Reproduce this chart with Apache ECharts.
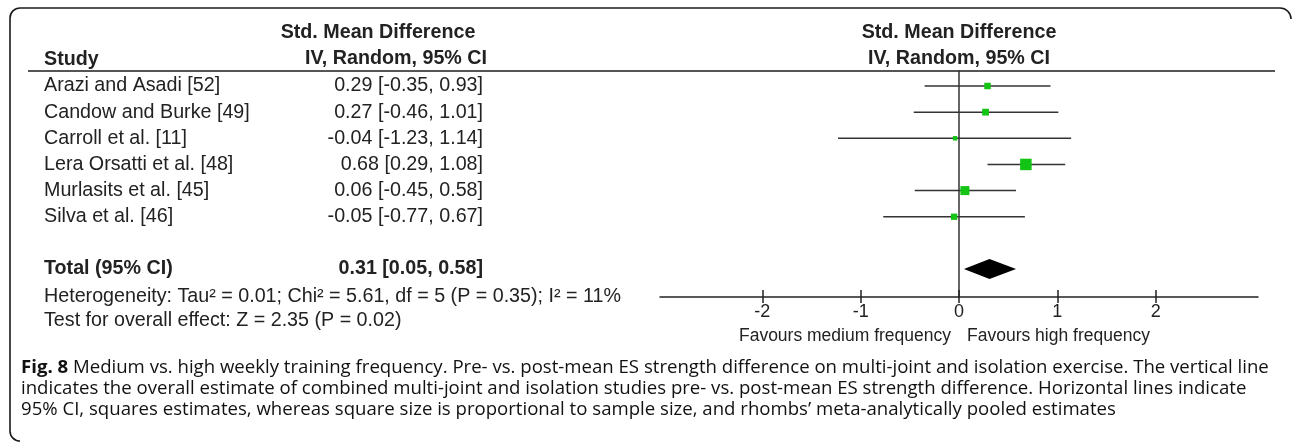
<!DOCTYPE html>
<html><head><meta charset="utf-8">
<script src="https://cdn.jsdelivr.net/npm/echarts@6/dist/echarts.min.js"></script>
<style>html,body{margin:0;padding:0;background:#fff}#c{width:1292px;height:444px}</style>
</head><body><div id="c"></div>
<script>
// ---- data ----
const studies = ['Arazi and Asadi [52]', 'Candow and Burke [49]', 'Carroll et al. [11]', 'Lera Orsatti et al. [48]', 'Murlasits et al. [45]', 'Silva et al. [46]'];
const smd = [0.29, 0.27, -0.04, 0.68, 0.06, -0.05];
const ciLow = [-0.35, -0.46, -1.23, 0.29, -0.45, -0.77];
const ciHigh = [0.93, 1.01, 1.14, 1.08, 0.58, 0.67];
const weights = [11.7, 12.8, 5.6, 36.6, 22.4, 11.0];
const totalLabel = ['Total (95% CI)'];
const totalSmd = [0.31];
const totalLow = [0.05];
const totalHigh = [0.58];
const xTickValues = [-2, -1, 0, 1, 2];
const headerStudy = 'Study';
const headerEffect = ['Std. Mean Difference', 'IV, Random, 95% CI'];
const heterogeneity = 'Heterogeneity: Tau\u00b2 = 0.01; Chi\u00b2 = 5.61, df = 5 (P = 0.35); I\u00b2 = 11%';
const overallTest = 'Test for overall effect: Z = 2.35 (P = 0.02)';
const favoursLeft = 'Favours medium frequency';
const favoursRight = 'Favours high frequency';
const captionLines = [
  '{b|Fig. 8} Medium vs. high weekly training frequency. Pre- vs. post-mean ES strength difference on multi-joint and isolation exercise. The vertical line',
  'indicates the overall estimate of combined multi-joint and isolation studies pre- vs. post-mean ES strength difference. Horizontal lines indicate',
  '95% CI, squares estimates, whereas square size is proportional to sample size, and rhombs\u2019 meta-analytically pooled estimates'
];

// ---- styles ----
const TF = '"Liberation Sans", Arial, sans-serif';
const tableFont = '19.7px ' + TF;
const tableBold = 'bold 19.7px ' + TF;
const capFont = '"Open Sans", sans-serif';
const capSize = 18.6;
const green = '#14c414';
const ink = '#222';
const frameInk = '#1a1a1a';
const fmt = v => v.toFixed(2);
const totalRow = studies.length + 1;

const chart = echarts.init(document.getElementById('c'), null, {renderer: 'canvas'});

const studyData = studies.map((s, i) => [i, smd[i], ciLow[i], ciHigh[i], weights[i]]);
const totalData = totalLabel.map((s, i) => [totalRow, totalSmd[i], totalLow[i], totalHigh[i]]);

const caption = captionLines.map((t, k) => ({
  type: 'text', x: 21, y: 368 + k * 21,
  style: {
    text: t, font: capSize + 'px ' + capFont, fill: '#111', verticalAlign: 'middle',
    rich: {b: {font: 'bold ' + capSize + 'px ' + capFont, fill: '#111'}}
  }
}));

const frameStyle = {stroke: frameInk, lineWidth: 1.6, fill: null};
const frame = [
  {type: 'line', shape: {x1: 20, y1: 8, x2: 1280, y2: 8}, style: frameStyle},
  {type: 'line', shape: {x1: 10, y1: 18, x2: 10, y2: 431}, style: frameStyle},
  {type: 'arc', shape: {cx: 20, cy: 18, r: 10, startAngle: Math.PI, endAngle: Math.PI * 1.5, clockwise: true}, style: frameStyle},
  {type: 'arc', shape: {cx: 1280, cy: 19, r: 11, startAngle: -Math.PI / 2, endAngle: 0, clockwise: true}, style: frameStyle},
  {type: 'arc', shape: {cx: 20, cy: 431, r: 10, startAngle: Math.PI / 2, endAngle: Math.PI, clockwise: true}, style: frameStyle}
];

chart.setOption({
  animation: false,
  backgroundColor: '#fff',
  grid: {left: 660, width: 598, top: 71, height: 226, containLabel: false},
  xAxis: [{
    type: 'value', min: -3.04, max: 3.04, position: 'bottom',
    axisLine: {show: true, onZero: false, lineStyle: {color: ink, width: 1.5}},
    axisTick: {show: true, customValues: xTickValues, length: 6, inside: false, lineStyle: {color: ink, width: 1.5}},
    axisLabel: {show: true, customValues: xTickValues, margin: 6, color: ink, fontSize: 18, fontFamily: TF},
    splitLine: {show: false}
  }, {
    type: 'value', min: -3.04, max: 3.04, position: 'bottom',
    axisLine: {show: false, onZero: false},
    axisTick: {show: true, customValues: xTickValues, length: 7, inside: true, lineStyle: {color: ink, width: 1.5}},
    axisLabel: {show: false},
    splitLine: {show: false}
  }],
  yAxis: {
    type: 'value', inverse: true, min: -0.574, max: 8.07,
    axisLine: {show: true, onZero: true, onZeroAxisIndex: 0, lineStyle: {color: '#333', width: 1.5}},
    axisTick: {show: false}, axisLabel: {show: false}, splitLine: {show: false}
  },
  graphic: frame.concat([
    {type: 'line', shape: {x1: 28, y1: 71, x2: 1275, y2: 71}, style: {stroke: '#555', lineWidth: 2}},
    {type: 'text', x: 44, y: 60, style: {text: headerStudy, font: tableBold, fill: ink, align: 'left', verticalAlign: 'middle'}},
    {type: 'text', x: 378, y: 33, style: {text: headerEffect[0], font: tableBold, fill: ink, align: 'center', verticalAlign: 'middle'}},
    {type: 'text', x: 396, y: 59, style: {text: headerEffect[1], font: tableBold, fill: ink, align: 'center', verticalAlign: 'middle'}},
    {type: 'text', x: 959, y: 33, style: {text: headerEffect[0], font: tableBold, fill: ink, align: 'center', verticalAlign: 'middle'}},
    {type: 'text', x: 959, y: 59, style: {text: headerEffect[1], font: tableBold, fill: ink, align: 'center', verticalAlign: 'middle'}},
    {type: 'text', x: 44, y: 297, style: {text: heterogeneity, font: tableFont, fill: ink, align: 'left', verticalAlign: 'middle'}},
    {type: 'text', x: 44, y: 321, style: {text: overallTest, font: tableFont, fill: ink, align: 'left', verticalAlign: 'middle'}},
    {type: 'text', x: 951, y: 336, style: {text: favoursLeft, font: '17.5px ' + TF, fill: ink, align: 'right', verticalAlign: 'middle'}},
    {type: 'text', x: 967, y: 336, style: {text: favoursRight, font: '17.5px ' + TF, fill: ink, align: 'left', verticalAlign: 'middle'}}
  ]).concat(caption),
  series: [{
    type: 'custom', clip: false, data: studyData,
    encode: {x: [1, 2, 3], y: 0},
    renderItem(params, api) {
      const i = api.value(0);
      const est = api.value(1), lo = api.value(2), hi = api.value(3), w = api.value(4);
      const pLo = api.coord([lo, i]), pHi = api.coord([hi, i]), pE = api.coord([est, i]);
      const s = Math.sqrt(w) * 1.9;
      return {type: 'group', children: [
        {type: 'line', shape: {x1: pLo[0], y1: pLo[1], x2: pHi[0], y2: pHi[1]}, style: {stroke: '#333', lineWidth: 1.5}},
        {type: 'rect', shape: {x: pE[0] - s / 2, y: pE[1] - s / 2, width: s, height: s}, style: {fill: green}},
        {type: 'text', x: 44, y: pE[1], style: {text: studies[i], font: tableFont, fill: ink, align: 'left', verticalAlign: 'middle'}},
        {type: 'text', x: 483, y: pE[1], style: {text: fmt(est) + ' [' + fmt(lo) + ', ' + fmt(hi) + ']', font: tableFont, fill: ink, align: 'right', verticalAlign: 'middle'}}
      ]};
    }
  }, {
    type: 'custom', clip: false, data: totalData,
    encode: {x: [1, 2, 3], y: 0},
    renderItem(params, api) {
      const r = api.value(0);
      const est = api.value(1), lo = api.value(2), hi = api.value(3);
      const pLo = api.coord([lo, r]), pHi = api.coord([hi, r]), pE = api.coord([est, r]);
      const h = 10;
      return {type: 'group', children: [
        {type: 'polygon', shape: {points: [[pLo[0], pE[1]], [pE[0], pE[1] - h], [pHi[0], pE[1]], [pE[0], pE[1] + h]]}, style: {fill: '#000'}},
        {type: 'text', x: 44, y: pE[1], style: {text: totalLabel[params.dataIndex], font: tableBold, fill: ink, align: 'left', verticalAlign: 'middle'}},
        {type: 'text', x: 483, y: pE[1], style: {text: fmt(est) + ' [' + fmt(lo) + ', ' + fmt(hi) + ']', font: tableBold, fill: ink, align: 'right', verticalAlign: 'middle'}}
      ]};
    }
  }]
});
</script>
</body></html>
